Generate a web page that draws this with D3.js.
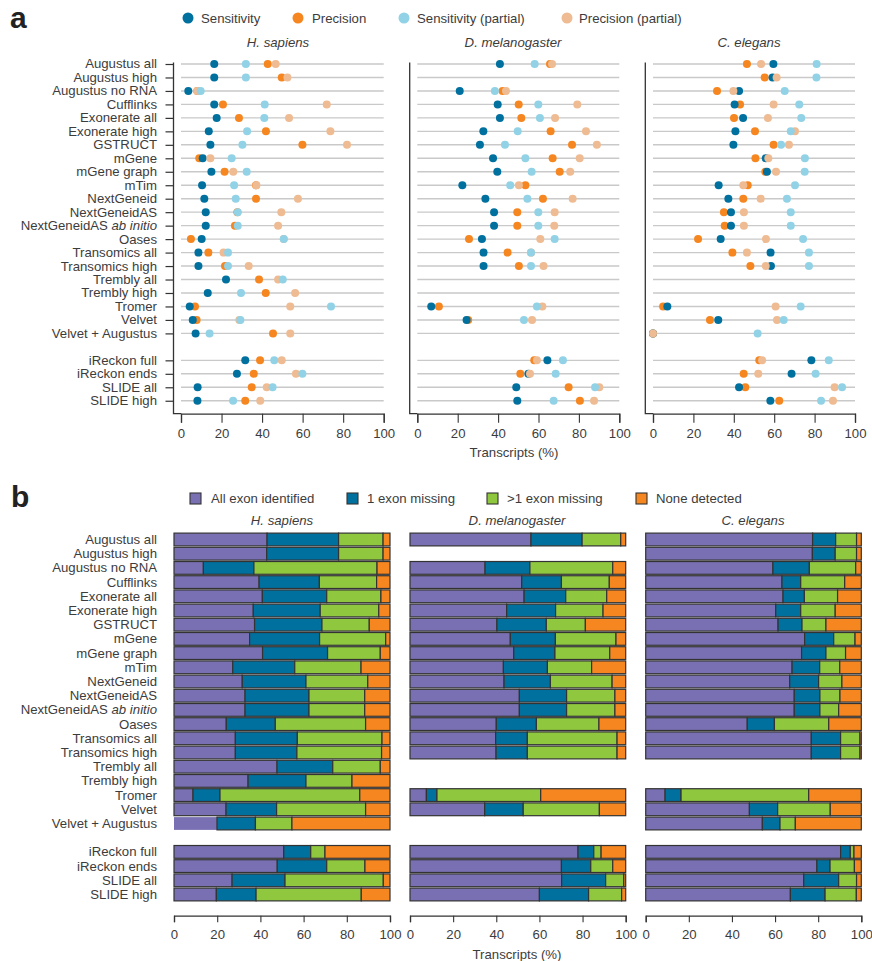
<!DOCTYPE html>
<html><head><meta charset="utf-8">
<script src="https://cdn.jsdelivr.net/npm/d3@7"></script>
<style>
html,body{margin:0;padding:0;background:#fff}
svg{display:block}
text{font-family:"Liberation Sans",Arial,sans-serif;fill:#3c3c3c}
</style></head><body><svg id="c" width="872" height="961"></svg>
<script>
const rows=["Augustus all","Augustus high","Augustus no RNA","Cufflinks","Exonerate all","Exonerate high","GSTRUCT","mGene","mGene graph","mTim","NextGeneid","NextGeneidAS","NextGeneidAS ab initio","Oases","Transomics all","Transomics high","Trembly all","Trembly high","Tromer","Velvet","Velvet + Augustus"," ","iReckon full","iReckon ends","SLIDE all","SLIDE high"];
const species=["H. sapiens","D. melanogaster","C. elegans"];
const ticks=[0,20,40,60,80,100];
const dotSeries=["Sensitivity","Precision","Sensitivity (partial)","Precision (partial)"];
const barSeries=["All exon identified","1 exon missing",">1 exon missing","None detected"];

// Panel a: one value per row, blank row and missing methods are null
const hsSens=[16.4,16.4,3.6,16.4,17.6,13.7,14.5,10.7,15,10.4,11.5,12.2,12.2,10.2,8.6,8.6,22.2,13.2,4.3,5.8,7.2,null,31.7,27.6,8.2,8.1];
const hsPrec=[42.8,49.7,8,20.7,28.6,41.9,59.9,9,21.5,37,37,27.8,26.6,4.9,13.5,21.7,38.5,41.8,6.9,7.7,45.4,null,39,35.9,34.9,31.7];
const hsSensP=[32,32,9.7,41.3,41.1,32.6,30.3,25,32.4,26.2,27,28,28,50.7,23.2,23.2,50.2,29.6,74,29.3,14.1,null,46,59.9,45.2,25.7];
const hsPrecP=[46.7,52.5,8,71.9,53.3,73.7,81.9,14.5,25.8,37.2,57.7,49.5,47.9,50.7,21,33.4,47.9,56.3,53.9,28.8,53.9,null,49.7,56.7,42.3,39.1];
const dmSens=[40.9,null,21,39.8,40.9,32.7,31,37.5,39.6,22.3,33.7,38,38,32,32.8,32.8,null,null,6.9,24.4,null,null,64.4,55,49,49.5];
const dmPrec=[65.7,null,42.2,50.2,51.5,66,76.6,67,70.5,53.5,62.2,49.5,49.5,25.6,44.7,50.3,null,null,10.7,25.2,null,null,57.9,51,74.9,80.5];
const dmSensP=[58.1,null,38.4,59.9,60.7,49.7,43.4,53.5,56.6,46,54.5,59.9,59.9,68,56.3,56.3,null,null,59.2,52.8,null,null,72.1,68.5,88,67.5];
const dmPrecP=[66.7,null,43.9,79.2,68.2,83.5,88.9,80.4,75.7,50.3,76.9,68,67.8,60.9,56.3,62.5,null,null,61.9,56.8,null,null,59.2,55.8,90.1,87.5];
const ceSens=[59.6,59.2,42.6,40.4,44.6,40.8,39.8,55.8,56.4,32.5,37.3,38.6,38.6,33.5,58.2,58.4,null,null,7.1,32.3,0,null,78.4,68.6,42.6,58.1];
const cePrec=[46.5,55.3,31.7,43.1,40.1,50.5,59.7,50.7,55.6,46.9,44.7,35.1,35.5,22.3,39.3,48.2,null,null,5,28.2,0,null,52.6,44.9,45.7,62.5];
const ceSensP=[81,80.9,65.2,72.4,73.4,68.2,63.4,75.2,75.1,70.3,66.3,68.2,68.2,74.3,77.2,77.2,null,null,73.1,64.7,51.8,null,87,80.5,93.6,83.2];
const cePrecP=[53.5,61.2,39.8,59.7,56.9,70.3,67.3,57.1,60.9,44.7,53.3,45,45,55.9,46.5,55.8,null,null,60.7,61.4,0,null,54,52.1,89.9,89.1];

// Panel b: four segments per row
const hsBars=[[43.1,33.1,20.6,3.2],[42.9,33.3,20.6,3.2],[13.6,23.4,57,6],[39.4,27.9,26.5,6.2],[40.9,29.8,25.1,4.2],[36.7,31,27.1,5.2],[37.3,31.2,21.9,9.6],[35,32.4,30.6,2],[41,30.1,24.4,4.5],[27.2,28.7,30.7,13.4],[31.6,29.5,28.6,10.3],[32.9,29.6,25.8,11.7],[32.9,29.6,25.8,11.7],[24.2,22.7,41.8,11.3],[28.4,28.7,39.2,3.7],[28.4,28.5,39.2,3.9],[47.7,25.8,22,4.5],[34.3,26.8,21.3,17.6],[8.8,12.5,64.7,14],[24.1,23.4,41.2,11.3],[19.9,17.8,16.9,45.4],null,[50.8,12.5,6.6,30.1],[47.8,22.9,17.7,11.6],[26.9,24.5,45.5,3.1],[19.6,18.4,48.7,13.3]];
const dmBars=[[56.1,23.7,17.9,2.3],null,[34.8,20.8,38.4,6],[51.8,18.4,22.2,7.6],[52.9,19.3,19,8.8],[44.8,22.7,22,10.5],[40.3,22.9,18.1,18.7],[46.5,20.9,28.1,4.5],[48.1,19.1,25.4,7.4],[43.3,20.4,20.5,15.8],[43.6,21.5,28.6,6.3],[50.7,21.9,22.4,5],[50.7,21.9,22.4,5],[40,18.6,29,12.4],[39.7,14.7,41.6,4],[39.9,14.5,41.6,4],null,null,[7.6,4.9,48.1,39.4],[34.6,17.9,35.3,12.2],null,null,[77.9,7.3,3.4,11.4],[70.2,13.6,10.2,6],[70.3,20.4,8.4,0.9],[60,22.8,15.3,1.9]];
const ceBars=[[77.4,10.7,9.7,2.2],[77.3,10.6,9.9,2.2],[59,16.9,21.5,2.6],[63.2,8.7,20.4,7.7],[63.7,9.9,15.4,11],[60.3,11.6,16,12.1],[61.4,11.1,11.1,16.4],[73.7,13.5,9.9,2.9],[72.3,11.3,9.1,7.3],[67.9,12.8,9.3,10],[66.8,13.4,10.8,9],[68.9,11.9,9.3,9.9],[68.9,11.9,8.7,10.5],[47.1,12.6,25.2,15.1],[76.8,13.6,9,0.6],[76.8,13.6,9,0.6],null,null,[9,7.4,59.2,24.4],[48.1,13.1,24.4,14.4],[54.1,8.2,7.1,30.6],null,[90.4,4.5,1.7,3.4],[79.4,6.1,11.3,3.2],[73.3,16.2,8.3,2.2],[67.1,16.1,14.5,2.3]];

const dotData=[[hsPrec,hsSens,hsPrecP,hsSensP],[dmPrec,dmSens,dmPrecP,dmSensP],[cePrec,ceSens,cePrecP,ceSensP]];
const dotOrder=[1,0,3,2]; // series index of each drawing layer
const barData=[hsBars,dmBars,ceBars];
const dotColors=["#00709f","#f6861f","#92d2e6","#eebb92"];
const barColors=["#7870b2","#00709f","#8fc73e","#f6861f"];
const ink="#333";
const svg=d3.select("#c");
const fs=13.2;

function italicLabel(sel){
  sel.each(function(d){
    const t=d3.select(this);
    if(d.endsWith(" ab initio")){
      t.text(d.replace(" ab initio"," "));
      t.append("tspan").attr("font-style","italic").text("ab initio");
    } else t.text(d);
  });
}
function xAxisStyle(g){
  g.selectAll("path.domain").attr("stroke",ink).attr("stroke-width",1.3);
  g.selectAll(".tick line").attr("stroke",ink).attr("stroke-width",1.1);
  g.selectAll("text").attr("font-family",'"Liberation Sans"').attr("font-size",fs).attr("fill","#3c3c3c");
}

/* ---------- panel a ---------- */
svg.append("text").attr("x",10).attr("y",27.5).attr("font-size",30).attr("font-weight",700).attr("style",'fill:#222').text("a");
const legA=[[188,201],[298,312],[404,417],[567,579]];
dotSeries.forEach((s,i)=>{
  svg.append("circle").attr("cx",legA[i][0]).attr("cy",18).attr("r",5.5).attr("fill",dotColors[i]);
  svg.append("text").attr("x",legA[i][1]).attr("y",22.5).attr("font-size",fs).text(s);
});
const yA=d3.scalePoint().domain(rows).range([64,400.75]);
const xRangesA=[[181,383.7],[417.3,619.3],[653,855]];
const axisXA=[173.5,409.7,645.3];
const titleXA=[278,513,749];
const namedRows=rows.filter(r=>r.trim());
species.forEach((sp,k)=>{
  const x=d3.scaleLinear().domain([0,100]).range(xRangesA[k]);
  const g=svg.append("g");
  g.append("text").attr("x",titleXA[k]).attr("y",46.5).attr("text-anchor","middle").attr("font-size",fs).attr("font-style","italic").text(sp);
  g.append("g").selectAll("line").data(namedRows).join("line")
    .attr("x1",x(0)).attr("x2",x(100)).attr("y1",d=>yA(d)).attr("y2",d=>yA(d))
    .attr("stroke","#c9c9c9").attr("stroke-width",1.4);
  dotData[k].forEach((vals,layer)=>{
    g.append("g").selectAll("circle").data(vals.map((v,i)=>({v,r:rows[i]})).filter(d=>d.v!==null)).join("circle")
      .attr("cx",d=>x(d.v)).attr("cy",d=>yA(d.r)).attr("r",4)
      .attr("fill",dotColors[dotOrder[layer]]);
  });
  const ax=g.append("g").attr("transform","translate(0,413.7)").call(d3.axisBottom(x).tickValues(ticks).tickSize(9).tickPadding(5.5));
  xAxisStyle(ax);
  g.append("path").attr("d",`M${axisXA[k]},62.5V413.7H${x(0)}`).attr("fill","none").attr("stroke",ink).attr("stroke-width",1.3);
  if(k===0){
    const ay=g.append("g").attr("transform",`translate(${axisXA[0]},0)`)
      .call(d3.axisLeft(yA).tickValues(namedRows).tickSize(8).tickPadding(8.5));
    ay.select("path.domain").remove();
    ay.selectAll(".tick line").attr("stroke",ink).attr("stroke-width",1.2);
    ay.selectAll("text").attr("font-family",'"Liberation Sans"').attr("font-size",fs).attr("fill","#3c3c3c").attr("dy","0.3em").call(italicLabel);
  }
});
svg.append("text").attr("x",514).attr("y",456.5).attr("text-anchor","middle").attr("font-size",fs).text("Transcripts (%)");

/* ---------- panel b ---------- */
svg.append("text").attr("x",11).attr("y",507).attr("font-size",30).attr("font-weight",700).attr("style",'fill:#222').text("b");
const legB=[[190,211],[347,367],[487,507],[636,656]];
barSeries.forEach((s,i)=>{
  svg.append("rect").attr("x",legB[i][0]).attr("y",493).attr("width",11).attr("height",11).attr("fill",barColors[i]).attr("stroke",ink).attr("stroke-width",1.1);
  svg.append("text").attr("x",legB[i][1]).attr("y",502.5).attr("font-size",fs).text(s);
});
const yB=d3.scaleBand().domain(rows).range([532.4,901.6]).paddingInner(0.1).paddingOuter(0.05);
const xRangesB=[[174,390],[410,625.7],[645.7,861.3]];
const titleXB=[282,517,753];
species.forEach((sp,k)=>{
  const x=d3.scaleLinear().domain([0,100]).range(xRangesB[k]);
  const g=svg.append("g");
  g.append("text").attr("x",titleXB[k]).attr("y",525).attr("text-anchor","middle").attr("font-size",fs).attr("font-style","italic").text(sp);
  const tbl=barData[k].map((v,i)=>({v,r:rows[i]})).filter(d=>d.v);
  const layers=d3.stack().keys([0,1,2,3]).value((d,key)=>d.v[key])(tbl);
  layers.forEach((lay,li)=>{
    g.append("g").selectAll("rect").data(lay).join("rect")
      .attr("x",d=>x(d[0])).attr("width",d=>x(d[1])-x(d[0]))
      .attr("y",d=>yB(d.data.r)).attr("height",yB.bandwidth())
      .attr("fill",barColors[li])
      .attr("stroke",d=>(k===0&&d.data.r==="Velvet + Augustus"&&li===0)?"none":ink)
      .attr("stroke-width",1.2);
  });
  const ax=g.append("g").attr("transform","translate(0,915.7)").call(d3.axisBottom(x).tickValues(ticks).tickSize(6.5).tickPadding(7));
  xAxisStyle(ax);
});
svg.append("g").selectAll("text").data(namedRows).join("text")
  .attr("x",157).attr("y",d=>yB(d)+yB.bandwidth()/2+4.4).attr("text-anchor","end").attr("font-size",fs).call(italicLabel);
svg.append("text").attr("x",517).attr("y",958.5).attr("text-anchor","middle").attr("font-size",fs).text("Transcripts (%)");
</script></body></html>
